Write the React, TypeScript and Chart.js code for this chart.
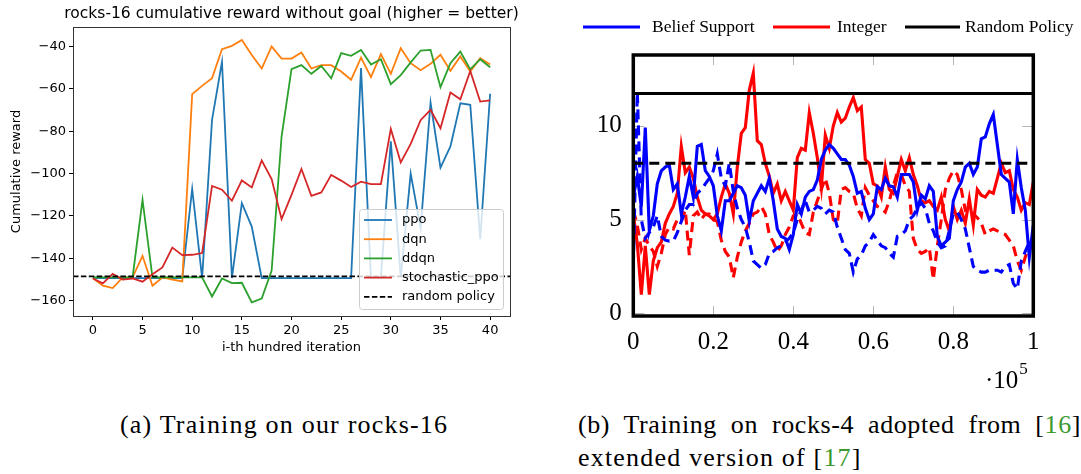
import React, { useEffect, useRef } from "react";
import { Chart, registerables } from "chart.js";

Chart.register(...registerables);

// ---------- Left chart data (rocks-16) ----------
const ITERATIONS = [0, 1, 2, 3, 4, 5, 6, 7, 8, 9, 10, 11, 12, 13, 14, 15, 16, 17, 18, 19, 20, 21, 22, 23, 24, 25, 26, 27, 28, 29, 30, 31, 32, 33, 34, 35, 36, 37, 38, 39, 40];
const PPO = [-149.3, -149.3, -149.3, -149.3, -149.3, -149.3, -149.3, -149.3, -149.3, -149.3, -107.2, -149.3, -74.6, -47.2, -149.3, -113.9, -125, -149.3, -149.3, -149.3, -149.3, -149.3, -149.3, -149.3, -149.3, -149.3, -149.3, -50.2, -149, -149, -84.8, -149, -100, -125.7, -66.5, -97.2, -87.2, -66.8, -67.5, -131, -62.3];
const DQN = [-149.3, -152.9, -154, -149, -149, -138.8, -152.9, -149, -150, -150.9, -62.5, -58.6, -55, -41.3, -39.7, -36.9, -44, -50.4, -40, -45.7, -45.7, -42.8, -50.4, -48.8, -48.8, -51.8, -55.7, -45.2, -54.5, -43.6, -52.9, -40.8, -47.9, -51.2, -48.2, -43.9, -51.5, -44.7, -51.8, -45.5, -48.5];
const DDQN = [-149, -149, -149, -149, -149, -112.4, -149, -149, -149, -149, -149, -149, -158, -149.5, -151.7, -151.5, -160.8, -159, -145.7, -82.5, -50.7, -48.8, -52.9, -49.2, -55, -43.1, -44.4, -41.6, -48.5, -46, -57.8, -53.5, -47.5, -41.9, -41.6, -59.2, -47.9, -42.4, -50.8, -46, -49.8];
const STOCHASTIC_PPO = [-149.5, -151.8, -147.3, -150, -149.5, -151, -147.5, -144.3, -134.9, -138.5, -138.3, -137.5, -105.8, -107.6, -112.8, -103.2, -106.5, -93.8, -102.6, -121.5, -110, -97.8, -110.5, -108.9, -100.6, -103.3, -106.3, -103.8, -105, -105, -78.9, -94.7, -86, -74.8, -69.9, -78.6, -61.7, -64.9, -51.6, -66, -65.4];
const RANDOM_POLICY_LEFT = -148.5;
const LEFT_X_RANGE = [-2, 42];
const LEFT_Y_RANGE = [-167.2, -30.8];
const LEFT_X_TICKS = [0, 5, 10, 15, 20, 25, 30, 35, 40];
const LEFT_Y_TICKS = [-160, -140, -120, -100, -80, -60, -40];
const LEFT_TITLE = "rocks-16 cumulative reward without goal (higher = better)";

// ---------- Right chart data (rocks-4), steps in thousands ----------
const STEPS_K = [0, 1, 2, 3, 4, 5, 6, 7, 8, 9, 10, 11, 12, 13, 14, 15, 16, 17, 18, 19, 20, 21, 22, 23, 24, 25, 26, 27, 28, 29, 30, 31, 32, 33, 34, 35, 36, 37, 38, 39, 40, 41, 42, 43, 44, 45, 46, 47, 48, 49, 50, 51, 52, 53, 54, 55, 56, 57, 58, 59, 60, 61, 62, 63, 64, 65, 66, 67, 68, 69, 70, 71, 72, 73, 74, 75, 76, 77, 78, 79, 80, 81, 82, 83, 84, 85, 86, 87, 88, 89, 90, 91, 92, 93, 94, 95, 96, 97, 98, 99, 100];
const BELIEF_SOLID = [6.2, 7.3, 5.7, 9.9, 4.4, 5.2, 6.9, 7.6, 7.8, 7.9,
  6.6, 6.9, 5.3, 6.2, 7.3, 6.2, 8.9, 9.0, 7.6, 7.3,
  6.8, 5.2, 4.4, 6.0, 6.0, 6.4, 6.8, 6.7, 6.3, 4.9,
  6.0, 6.4, 6.8, 6.5, 7.2, 6.0, 4.5, 4.1, 4.0, 3.4,
  4.2, 5.8, 5.3, 6.2, 6.5, 6.6, 7.1, 8.2, 8.7, 9.0,
  8.8, 8.5, 8.2, 8.2, 7.9, 7.3, 6.4, 6.5, 5.6, 5.0,
  5.3, 6.75, 6.6, 7.2, 6.8, 6.75, 6.2, 7.4, 7.4, 7.4,
  7.0, 5.5, 6.3, 6.1, 6.8, 6.5, 4.1, 3.6, 3.8, 4.0,
  6.0, 6.6, 7.0, 7.8, 8.0, 7.4, 7.8, 9.3, 9.4, 10.1,
  10.6, 9.0, 7.4, 7.2, 7.0, 5.3, 8.2, 6.7, 5.5, 3.0,
  4.7];
const BELIEF_DASHED = [2.5, 11.8, 5.0, 4.0, 4.3, 4.6, 5.2, 4.1, 3.9, 3.85,
  3.85, 4.3, 4.9, 5.5, 5.8, 5.8, 6.4, 6.6, 6.9, 7.2,
  7.6, 8.5, 7.2, 6.8, 8.0, 6.5, 5.6, 5.0, 4.6, 3.8,
  2.8, 2.6, 2.4, 2.6, 3.2, 3.3, 3.5, 3.6, 3.8, 4.0,
  4.3, 5.0, 5.5, 6.0, 5.4, 5.5, 5.7, 5.6, 5.3, 5.5,
  5.4, 4.6, 4.0, 3.4, 3.2, 2.2, 2.9, 3.1, 3.6, 3.8,
  4.2, 3.9, 3.6, 3.5, 3.2, 3.0, 4.1, 4.2, 4.4, 5.0,
  5.2, 5.6, 5.9, 5.6, 4.8, 4.4, 3.8, 3.5, 3.6, 4.4,
  5.3, 5.4, 5.0, 4.5, 3.5, 2.5, 2.3, 2.2, 2.2, 2.3,
  2.3, 2.3, 2.2, 2.5, 2.6, 1.6, 1.3, 2.8, 3.3, 3.8,
  3.6];
const INTEGER_SOLID = [5.3, 3.7, 1.0, 3.6, 1.0, 2.8, 3.5, 3.8, 4.8, 5.3,
  5.7, 6.4, 8.9, 7.5, 7.8, 7.2, 6.2, 5.5, 5.3, 5.2,
  5.0, 5.3, 6.2, 6.9, 6.4, 5.3, 7.8, 9.6, 9.9, 11.9,
  12.8, 9.2, 9.0, 8.0, 7.3, 6.4, 6.9, 6.0, 6.5, 6.0,
  5.5, 8.3, 8.8, 8.7, 10.7, 9.6, 8.3, 6.7, 9.5, 8.8,
  10.0, 10.7, 10.2, 10.4, 11.0, 11.5, 10.8, 11.0, 8.2, 8.0,
  6.9, 6.8, 6.2, 7.8, 6.6, 6.4, 7.3, 8.2, 7.6, 8.3,
  7.4, 6.8, 6.0, 5.9, 6.0, 5.7, 5.5, 6.2, 5.0, 4.4,
  5.7, 5.0, 5.5, 4.8, 6.1, 4.7, 6.6, 6.3, 6.2, 6.5,
  6.4, 7.2, 8.0, 7.5, 7.6, 6.6, 6.2, 5.5, 5.9, 5.8,
  7.0];
const INTEGER_DASHED = [5.5, 4.7, 3.4, 4.0, 3.6, 3.3, 2.5, 3.2, 4.2, 4.6,
  4.5, 5.0, 4.9, 5.5, 3.1, 5.2, 5.4, 5.0, 5.3, 5.3,
  5.0, 4.9, 3.9, 3.3, 3.0, 1.9, 3.0, 3.8, 4.4, 4.8,
  5.3, 5.4, 5.7, 5.3, 4.2, 3.8, 3.3, 3.6, 4.2, 4.6,
  5.2, 5.3, 4.8, 4.3, 4.2, 5.4, 6.0, 6.6, 7.2, 6.4,
  5.0, 4.8, 6.6, 6.7, 6.5, 6.4, 5.6, 5.2, 6.7, 6.3,
  6.0, 5.7, 5.6, 5.4, 6.0, 6.8, 7.5, 7.4, 6.8, 6.5,
  4.0, 3.4, 3.2, 3.3, 3.5, 1.8, 3.6, 5.0, 6.6, 7.2,
  7.6, 7.4, 6.6, 5.5, 5.6, 5.3, 5.1, 4.8, 4.2, 4.4,
  4.5, 4.4, 4.3, 4.2, 3.9, 3.6, 2.8, 2.3, 3.0, 3.6,
  4.1];
const RANDOM_POLICY_SOLID = 11.72;
const RANDOM_POLICY_DASHED = 8.0;
const RIGHT_X_RANGE = [0, 100];
const RIGHT_Y_RANGE = [-0.14, 13.77];
const RIGHT_X_TICKS = [0, 20, 40, 60, 80, 100];
const RIGHT_Y_TICKS = [0, 5, 10];

const SANS = '"DejaVu Sans", sans-serif';
const SERIF = '"Liberation Serif", serif';
const CITE_GREEN = "#3a9a2e";

const leftDecor = {
  id: "leftDecor",
  afterDatasetsDraw(chart: any) {
    const { ctx, chartArea } = chart;
    ctx.save();
    ctx.strokeStyle = "#333";
    ctx.lineWidth = 1;
    ctx.strokeRect(Math.round(chartArea.left) + 0.5, Math.round(chartArea.top) + 0.5,
      Math.round(chartArea.right - chartArea.left), Math.round(chartArea.bottom - chartArea.top));
    // title, centred over the axes like matplotlib
    ctx.fillStyle = "#000";
    ctx.font = `15.5px ${SANS}`;
    ctx.textAlign = "center";
    ctx.textBaseline = "middle";
    ctx.fillText(LEFT_TITLE, (chartArea.left + chartArea.right) / 2, 14);
    // legend
    const w = 144, h = 100;
    const x0 = chartArea.right - 7 - w;
    const y0 = chartArea.bottom - 7 - h;
    ctx.beginPath();
    ctx.roundRect(x0 + 0.5, y0 + 0.5, w, h, 3);
    ctx.fillStyle = "rgba(255,255,255,0.8)";
    ctx.fill();
    ctx.strokeStyle = "#cccccc";
    ctx.stroke();
    chart.data.datasets.forEach((ds: any, i: number) => {
      const y = y0 + 11 + i * 19.2;
      ctx.beginPath();
      ctx.setLineDash(ds.borderDash || []);
      ctx.strokeStyle = ds.borderColor;
      ctx.lineWidth = ds.borderWidth;
      ctx.moveTo(x0 + 5, y);
      ctx.lineTo(x0 + 33, y);
      ctx.stroke();
      ctx.setLineDash([]);
      ctx.fillStyle = "#000";
      ctx.font = `13px ${SANS}`;
      ctx.textBaseline = "middle";
      ctx.textAlign = "left";
      ctx.fillText(ds.label, x0 + 43, y);
    });
    ctx.restore();
  },
};

const LEGEND_RIGHT = [
  { label: "Belief Support", color: "#0000ff", x1: 23, x2: 80, tx: 92 },
  { label: "Integer", color: "#ff0000", x1: 213, x2: 270, tx: 277 },
  { label: "Random Policy", color: "#000000", x1: 345, x2: 400, tx: 405 },
];

const rightDecor = {
  id: "rightDecor",
  beforeDatasetsDraw(chart: any) {
    const { ctx, chartArea, scales } = chart;
    ctx.save();
    ctx.strokeStyle = "#b5b5b5";
    ctx.lineWidth = 1;
    RIGHT_X_TICKS.forEach((v) => {
      const x = Math.round(scales.x.getPixelForValue(v)) + 0.5;
      ctx.beginPath();
      ctx.moveTo(x, chartArea.bottom);
      ctx.lineTo(x, chartArea.bottom - 10);
      ctx.moveTo(x, chartArea.top);
      ctx.lineTo(x, chartArea.top + 10);
      ctx.stroke();
    });
    RIGHT_Y_TICKS.forEach((v) => {
      const y = Math.round(scales.y.getPixelForValue(v)) + 0.5;
      ctx.beginPath();
      ctx.moveTo(chartArea.left, y);
      ctx.lineTo(chartArea.left + 11, y);
      ctx.moveTo(chartArea.right, y);
      ctx.lineTo(chartArea.right - 11, y);
      ctx.stroke();
    });
    ctx.restore();
  },
  afterDatasetsDraw(chart: any) {
    const { ctx, chartArea } = chart;
    ctx.save();
    ctx.strokeStyle = "#000";
    ctx.lineWidth = 3.5;
    ctx.strokeRect(chartArea.left, chartArea.top, chartArea.right - chartArea.left, chartArea.bottom - chartArea.top);
    LEGEND_RIGHT.forEach((item) => {
      ctx.beginPath();
      ctx.strokeStyle = item.color;
      ctx.lineWidth = 3.2;
      ctx.moveTo(item.x1, 27);
      ctx.lineTo(item.x2, 27);
      ctx.stroke();
      ctx.fillStyle = "#000";
      ctx.font = `17.5px ${SERIF}`;
      ctx.textBaseline = "middle";
      ctx.textAlign = "left";
      ctx.fillText(item.label, item.tx, 27);
    });
    ctx.font = `25px ${SERIF}`;
    ctx.textBaseline = "middle";
    ctx.textAlign = "left";
    ctx.fillStyle = "#000";
    const base = "\u00b710";
    ctx.fillText(base, 425, 381);
    const bw = ctx.measureText(base).width;
    ctx.font = `17px ${SERIF}`;
    ctx.fillText("5", 425 + bw + 1, 370);
    ctx.restore();
  },
};

export default function App() {
  const leftRef = useRef<HTMLCanvasElement | null>(null);
  const rightRef = useRef<HTMLCanvasElement | null>(null);

  useEffect(() => {
    const tickFont = { family: SANS, size: 13 };
    const lw = 1.8;
    const left = new Chart(leftRef.current as HTMLCanvasElement, {
      type: "line",
      data: {
        datasets: [
          { label: "ppo", data: ITERATIONS.map((x, i) => ({ x, y: PPO[i] })), borderColor: "#1f77b4", borderWidth: lw, pointRadius: 0, order: 4 },
          { label: "dqn", data: ITERATIONS.map((x, i) => ({ x, y: DQN[i] })), borderColor: "#ff7f0e", borderWidth: lw, pointRadius: 0, order: 3 },
          { label: "ddqn", data: ITERATIONS.map((x, i) => ({ x, y: DDQN[i] })), borderColor: "#2ca02c", borderWidth: lw, pointRadius: 0, order: 2 },
          { label: "stochastic_ppo", data: ITERATIONS.map((x, i) => ({ x, y: STOCHASTIC_PPO[i] })), borderColor: "#d62728", borderWidth: lw, pointRadius: 0, order: 1 },
          { label: "random policy", data: [{ x: LEFT_X_RANGE[0], y: RANDOM_POLICY_LEFT }, { x: LEFT_X_RANGE[1], y: RANDOM_POLICY_LEFT }], borderColor: "#000", borderWidth: lw, borderDash: [5.5, 2.4], pointRadius: 0, order: 0 },
        ] as any,
      },
      options: {
        responsive: false,
        animation: false,
        layout: { padding: { left: 0, right: 30, top: 27, bottom: 0 } },
        plugins: {
          legend: { display: false },
          tooltip: { enabled: false },
          title: { display: false },
        },
        scales: {
          x: {
            type: "linear",
            min: LEFT_X_RANGE[0],
            max: LEFT_X_RANGE[1],
            afterBuildTicks: (s: any) => { s.ticks = LEFT_X_TICKS.map((v) => ({ value: v })); },
            afterFit: (s: any) => { s.height = 54; },
            ticks: { font: tickFont, color: "#000", padding: 3, maxRotation: 0, autoSkip: false },
            grid: { drawOnChartArea: false, drawTicks: true, tickLength: 4, tickColor: "#000" },
            border: { display: false },
            title: { display: true, text: "i-th hundred iteration", color: "#000", font: tickFont, padding: { top: 0, bottom: 14.2 } },
          },
          y: {
            type: "linear",
            min: LEFT_Y_RANGE[0],
            max: LEFT_Y_RANGE[1],
            afterBuildTicks: (s: any) => { s.ticks = LEFT_Y_TICKS.map((v) => ({ value: v })); },
            afterFit: (s: any) => { s.width = 73; },
            ticks: { font: tickFont, color: "#000", padding: 3, autoSkip: false, callback: (v: any) => String(v).replace("-", "\u2212") },
            grid: { drawOnChartArea: false, drawTicks: true, tickLength: 4, tickColor: "#000" },
            border: { display: false },
            title: { display: true, text: "Cumulative reward", color: "#000", font: tickFont, padding: { top: 9.2, bottom: 0 } },
          },
        },
      } as any,
      plugins: [leftDecor],
    });

    const rw = 3.1;
    const dash = [10, 6];
    const rfont = { family: SERIF, size: 25 };
    const right = new Chart(rightRef.current as HTMLCanvasElement, {
      type: "line",
      data: {
        datasets: [
          { label: "Belief Support", data: STEPS_K.map((x, i) => ({ x, y: BELIEF_SOLID[i] })), borderColor: "#0000ff", borderWidth: rw, pointRadius: 0, order: 2 },
          { label: "Belief Support (dashed)", data: STEPS_K.map((x, i) => ({ x, y: BELIEF_DASHED[i] })), borderColor: "#0000ff", borderWidth: rw, borderDash: dash, pointRadius: 0, order: 3 },
          { label: "Integer", data: STEPS_K.map((x, i) => ({ x, y: INTEGER_SOLID[i] })), borderColor: "#ff0000", borderWidth: rw, pointRadius: 0, order: 4 },
          { label: "Integer (dashed)", data: STEPS_K.map((x, i) => ({ x, y: INTEGER_DASHED[i] })), borderColor: "#ff0000", borderWidth: rw, borderDash: dash, pointRadius: 0, order: 5 },
          { label: "Random Policy", data: [{ x: RIGHT_X_RANGE[0], y: RANDOM_POLICY_SOLID }, { x: RIGHT_X_RANGE[1], y: RANDOM_POLICY_SOLID }], borderColor: "#000", borderWidth: 3, pointRadius: 0, order: 0 },
          { label: "Random Policy (dashed)", data: [{ x: RIGHT_X_RANGE[0], y: RANDOM_POLICY_DASHED }, { x: RIGHT_X_RANGE[1], y: RANDOM_POLICY_DASHED }], borderColor: "#000", borderWidth: 3, borderDash: [10, 6], pointRadius: 0, order: 1 },
        ] as any,
      },
      options: {
        responsive: false,
        animation: false,
        layout: { padding: { left: 0, right: 47.7, top: 55, bottom: 0 } },
        plugins: { legend: { display: false }, tooltip: { enabled: false }, title: { display: false } },
        scales: {
          x: {
            type: "linear",
            min: RIGHT_X_RANGE[0],
            max: RIGHT_X_RANGE[1],
            afterBuildTicks: (s: any) => { s.ticks = RIGHT_X_TICKS.map((v) => ({ value: v })); },
            afterFit: (s: any) => { s.height = 84; },
            ticks: { font: rfont, color: "#000", padding: 11, maxRotation: 0, autoSkip: false, callback: (v: any) => String(v / 100) },
            grid: { display: false, drawTicks: false },
            border: { display: false },
          },
          y: {
            type: "linear",
            min: RIGHT_Y_RANGE[0],
            max: RIGHT_Y_RANGE[1],
            afterBuildTicks: (s: any) => { s.ticks = RIGHT_Y_TICKS.map((v) => ({ value: v })); },
            afterFit: (s: any) => { s.width = 73.3; },
            ticks: { font: rfont, color: "#000", padding: 11.6, autoSkip: false },
            grid: { display: false, drawTicks: false },
            border: { display: false },
          },
        },
      } as any,
      plugins: [rightDecor],
    });

    return () => {
      left.destroy();
      right.destroy();
    };
  }, []);

  const caption: React.CSSProperties = {
    position: "absolute",
    fontFamily: SERIF,
    fontSize: 26,
    lineHeight: "30px",
    letterSpacing: "1.2px",
    whiteSpace: "nowrap",
    color: "#000",
  };

  return (
    <div style={{ position: "absolute", left: 0, top: 0, width: 1081, height: 474, overflow: "hidden", background: "#fff" }}>
      <canvas ref={leftRef} width={540} height={370} style={{ position: "absolute", left: 0, top: 0, width: 540, height: 370 }} />
      <canvas ref={rightRef} width={521} height={400} style={{ position: "absolute", left: 560, top: 0, width: 521, height: 400 }} />
      <div style={{ ...caption, left: 120, top: 410 }}>(a) Training on our rocks-16</div>
      <div style={{ ...caption, left: 578, top: 410, width: 503, textAlign: "justify", textAlignLast: "justify", letterSpacing: "0.6px" }}>
        (b) Training on rocks-4 adopted from [<span style={{ color: CITE_GREEN }}>16</span>]
      </div>
      <div style={{ ...caption, left: 578, top: 443 }}>
        extended version of [<span style={{ color: CITE_GREEN }}>17</span>]
      </div>
    </div>
  );
}
